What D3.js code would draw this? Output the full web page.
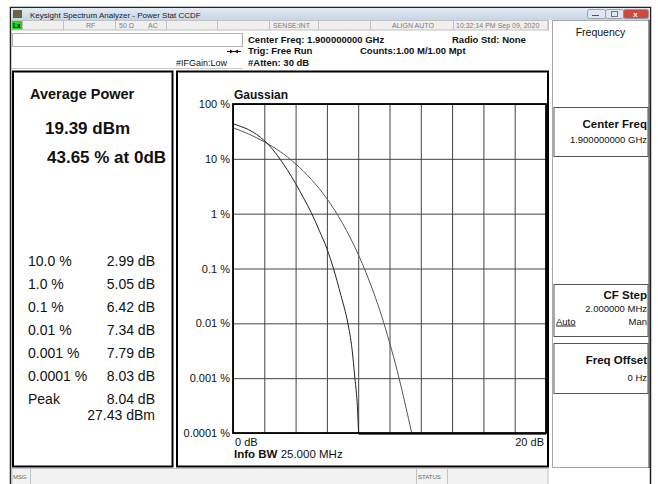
<!DOCTYPE html>
<html>
<head>
<meta charset="utf-8">
<script src="https://cdn.jsdelivr.net/npm/d3@7"></script>
<style>
  body { margin: 0; background: #fff; }
  svg { display: block; font-family: 'Liberation Sans', Arial, sans-serif; }
</style>
</head>
<body>
<svg id="chart" width="658" height="484"></svg>
<script>
// values
const yTicks = [100, 10, 1, 0.1, 0.01, 0.001, 0.0001];
const yTickLabels = ['100 %', '10 %', '1 %', '0.1 %', '0.01 %', '0.001 %', '0.0001 %'];
const xGridTicks = [0, 2, 4, 6, 8, 10, 12, 14, 16, 18, 20];
const xEndLabels = ['0 dB', '20 dB'];

const measuredDb  = [0, 0.5, 1, 1.5, 2, 2.5, 3, 3.5, 4, 4.5, 5, 5.5, 6, 6.42, 6.9, 7.34, 7.6, 7.79, 7.95, 8.03, 8.04, 20];
const measuredPct = [43.65, 39, 34, 28, 21.5, 15.3, 9.9, 6.1, 3.55, 1.95, 1.05, 0.5, 0.23, 0.1, 0.032, 0.01, 0.0035, 0.001, 0.0003, 0.0001, 0.000095, 0.000095];

const gaussianDb  = [0, 0.5, 1, 1.5, 2, 2.5, 3, 3.5, 4, 4.5, 5, 5.5, 6, 6.5, 7, 7.5, 8, 8.5, 9, 9.5, 10, 10.5, 11, 11.42];
const gaussianPct = [36.8, 32.6, 28.4, 24.3, 20.5, 16.9, 13.6, 10.7, 8.1, 5.97, 4.23, 2.88, 1.87, 1.15, 0.666, 0.361, 0.182, 0.084, 0.0355, 0.0135, 0.0045, 0.00134, 0.00034, 0.0001];

const statLabels = ['10.0 %', '1.0 %', '0.1 %', '0.01 %', '0.001 %', '0.0001 %', 'Peak'];
const statValues = ['2.99 dB', '5.05 dB', '6.42 dB', '7.34 dB', '7.79 dB', '8.03 dB', '8.04 dB'];
const peakPower = '27.43 dBm';
const avgPower = '19.39 dBm';
const avgPct = '43.65 % at 0dB';

const statusCells = [22, 63, 115, 166, 217, 269, 318, 370, 453, 548];
const statusTexts = [
  { x: 86, t: 'RF' }, { x: 119, t: '50 Ω' }, { x: 148, t: 'AC' },
  { x: 273, t: 'SENSE:INT' }, { x: 392, t: 'ALIGN AUTO' }, { x: 456, t: '10:32:14 PM Sep 09, 2020' }
];

const svg = d3.select('#chart');

// window frame and title bar
const grad = svg.append('defs').append('linearGradient')
  .attr('id', 'tb').attr('x1', 0).attr('y1', 0).attr('x2', 0).attr('y2', 1);
grad.append('stop').attr('offset', 0).attr('stop-color', '#e4ebf4');
grad.append('stop').attr('offset', 1).attr('stop-color', '#c6d4e5');

svg.append('rect').attr('x', 10.5).attr('y', 7.5).attr('width', 640).attr('height', 480)
  .attr('fill', '#fff').attr('stroke', '#222').attr('stroke-width', 1.5);
svg.append('rect').attr('x', 11).attr('y', 8).attr('width', 639).attr('height', 12).attr('fill', 'url(#tb)');
svg.append('rect').attr('x', 13).attr('y', 10).attr('width', 9).attr('height', 8).attr('fill', '#6b6540');
svg.append('text').attr('x', 30).attr('y', 17.5).attr('font-size', 8).attr('fill', '#222')
  .text('Keysight Spectrum Analyzer - Power Stat CCDF');

const btns = [{ x: 587, w: 18, c: '#dfe6ef' }, { x: 605, w: 18, c: '#dfe6ef' }, { x: 623, w: 25, c: '#cf4a3e' }];
svg.selectAll('.btn').data(btns).join('rect')
  .attr('x', d => d.x + 0.5).attr('y', 9.5).attr('width', d => d.w).attr('height', 9)
  .attr('rx', 2).attr('fill', d => d.c).attr('stroke', '#8797ad').attr('stroke-width', 0.8);
svg.append('line').attr('x1', 592).attr('x2', 599).attr('y1', 15.5).attr('y2', 15.5).attr('stroke', '#555');
svg.append('rect').attr('x', 611.5).attr('y', 11.5).attr('width', 6).attr('height', 5).attr('fill', 'none').attr('stroke', '#777');
svg.append('text').attr('x', 635.5).attr('y', 17).attr('text-anchor', 'middle').attr('font-size', 8)
  .attr('font-weight', 'bold').attr('fill', '#fff').text('x');

// status row
svg.append('rect').attr('x', 12).attr('y', 20.5).attr('width', 536).attr('height', 9.5)
  .attr('fill', '#efefef').attr('stroke', '#b5b5b5').attr('stroke-width', 0.8);
svg.append('rect').attr('x', 12).attr('y', 21).attr('width', 10).attr('height', 8.5).attr('fill', '#22d722');
svg.append('text').attr('x', 13).attr('y', 28).attr('font-size', 6.5).attr('font-weight', 'bold').text('Lx');
svg.selectAll('.cell').data(statusCells).join('line')
  .attr('x1', d => d + 0.5).attr('x2', d => d + 0.5).attr('y1', 20.5).attr('y2', 30)
  .attr('stroke', '#b5b5b5').attr('stroke-width', 0.8);
svg.selectAll('.stat').data(statusTexts).join('text')
  .attr('x', d => d.x).attr('y', 28).attr('font-size', 7).attr('fill', '#7a7a7a').text(d => d.t);

// header
svg.append('rect').attr('x', 12.5).attr('y', 33.5).attr('width', 230).attr('height', 13)
  .attr('fill', '#fff').attr('stroke', '#b0b0b0');
svg.append('line').attr('x1', 12).attr('x2', 243).attr('y1', 68.5).attr('y2', 68.5).attr('stroke', '#c8c8c8');
const hdr = svg.append('g').attr('font-size', 9.5).attr('font-weight', 'bold').attr('fill', '#111');
hdr.append('text').attr('x', 248).attr('y', 42.7).text('Center Freq: 1.900000000 GHz');
hdr.append('text').attr('x', 248).attr('y', 53.5).text('Trig: Free Run');
hdr.append('text').attr('x', 248).attr('y', 66).text('#Atten: 30 dB');
hdr.append('text').attr('x', 452).attr('y', 42.7).text('Radio Std: None');
hdr.append('text').attr('x', 360).attr('y', 53.5).text('Counts:1.00 M/1.00 Mpt');
svg.append('text').attr('x', 176).attr('y', 66).attr('font-size', 9).attr('fill', '#111').text('#IFGain:Low');
// coupling arrow
svg.append('line').attr('x1', 227).attr('x2', 241).attr('y1', 51.5).attr('y2', 51.5).attr('stroke', '#111');
svg.append('path').attr('d', 'M230,49.5 L233.5,51.5 L230,53.5 Z M238,49.5 L234.5,51.5 L238,53.5 Z').attr('fill', '#111');

// left results panel
svg.append('rect').attr('x', 13).attr('y', 71.5).attr('width', 159.5).attr('height', 395)
  .attr('fill', '#fff').attr('stroke', '#000').attr('stroke-width', 2);
const lp = svg.append('g').attr('fill', '#111');
lp.append('text').attr('x', 30).attr('y', 99).attr('font-size', 14.5).attr('font-weight', 'bold').text('Average Power');
lp.append('text').attr('x', 45).attr('y', 133.5).attr('font-size', 17).attr('font-weight', 'bold').text(avgPower);
lp.append('text').attr('x', 47).attr('y', 163).attr('font-size', 17).attr('font-weight', 'bold').text(avgPct);
lp.selectAll('.sl').data(statLabels).join('text')
  .attr('x', 28).attr('y', (d, i) => 266 + i * 23).attr('font-size', 14).text(d => d);
lp.selectAll('.sv').data(statValues).join('text')
  .attr('x', 155).attr('y', (d, i) => 266 + i * 23).attr('font-size', 14).attr('text-anchor', 'end').text(d => d);
lp.append('text').attr('x', 155).attr('y', 420).attr('font-size', 14).attr('text-anchor', 'end').text(peakPower);

// plot panel
svg.append('rect').attr('x', 177).attr('y', 71.5).attr('width', 371).attr('height', 395)
  .attr('fill', '#fff').attr('stroke', '#000').attr('stroke-width', 2);

const plot = { left: 233, right: 546, top: 104, bottom: 433 };
const x = d3.scaleLinear().domain([0, 20]).range([plot.left, plot.right]);
const y = d3.scaleLog().domain([0.0001, 100]).range([plot.bottom, plot.top]);

svg.append('text').attr('x', 234).attr('y', 99).attr('font-size', 12).attr('font-weight', 'bold')
  .attr('fill', '#111').text('Gaussian');

// gridlines
svg.append('g').attr('transform', `translate(0,${plot.bottom})`)
  .call(d3.axisBottom(x).tickValues(xGridTicks).tickFormat('').tickSize(-(plot.bottom - plot.top)))
  .call(g => g.select('.domain').remove())
  .call(g => g.selectAll('line').attr('stroke', '#444'));
svg.append('g').attr('transform', `translate(${plot.left},0)`)
  .call(d3.axisLeft(y).tickValues(yTicks).tickFormat('').tickSize(-(plot.right - plot.left)))
  .call(g => g.select('.domain').remove())
  .call(g => g.selectAll('line').attr('stroke', '#444'));

// y labels
svg.append('g').attr('transform', `translate(${plot.left},0)`)
  .call(d3.axisLeft(y).tickValues(yTicks).tickFormat((d, i) => yTickLabels[i]).tickSize(0).tickPadding(3))
  .call(g => g.select('.domain').remove())
  .call(g => g.selectAll('text').attr('font-size', 11).attr('fill', '#111')
    .attr('font-family', "'Liberation Sans', Arial, sans-serif"));

// traces
const line = d3.line().x(d => x(d[0])).y(d => y(d[1])).curve(d3.curveMonotoneX);
svg.append('path').datum(d3.zip(gaussianDb, gaussianPct)).attr('d', line)
  .attr('fill', 'none').attr('stroke', '#555').attr('stroke-width', 1);
svg.append('path').datum(d3.zip(measuredDb, measuredPct)).attr('d', line)
  .attr('fill', 'none').attr('stroke', '#222').attr('stroke-width', 1);

// frame
svg.append('rect').attr('x', plot.left).attr('y', plot.top)
  .attr('width', plot.right - plot.left).attr('height', plot.bottom - plot.top)
  .attr('fill', 'none').attr('stroke', '#000').attr('stroke-width', 1.8);

// x labels
svg.append('text').attr('x', x(0) + 2).attr('y', 445.5).attr('font-size', 11).attr('fill', '#111').text(xEndLabels[0]);
svg.append('text').attr('x', x(20) - 2).attr('y', 445.5).attr('font-size', 11).attr('text-anchor', 'end')
  .attr('fill', '#111').text(xEndLabels[1]);
const info = svg.append('text').attr('x', 234).attr('y', 458).attr('font-size', 11.5).attr('fill', '#111');
info.append('tspan').attr('font-weight', 'bold').text('Info BW ');
info.append('tspan').text('25.000 MHz');

// softkey panel
svg.append('rect').attr('x', 552.5).attr('y', 20.5).attr('width', 97).attr('height', 447)
  .attr('fill', '#fff').attr('stroke', '#a8a8a8');
svg.append('line').attr('x1', 649).attr('x2', 649).attr('y1', 20).attr('y2', 468).attr('stroke', '#333');
svg.append('text').attr('x', 600.5).attr('y', 36).attr('text-anchor', 'middle').attr('font-size', 10.5)
  .attr('fill', '#111').text('Frequency');
const keys = [{ y: 107, h: 49 }, { y: 284, h: 52 }, { y: 343, h: 50 }];
svg.selectAll('.key').data(keys).join('rect')
  .attr('x', 554).attr('y', d => d.y + 0.5).attr('width', 94).attr('height', d => d.h)
  .attr('fill', '#fff').attr('stroke', '#555');
const sk = svg.append('g').attr('fill', '#111').attr('text-anchor', 'end');
sk.append('text').attr('x', 647).attr('y', 128).attr('font-size', 11.5).attr('font-weight', 'bold').text('Center Freq');
sk.append('text').attr('x', 647).attr('y', 142.5).attr('font-size', 9.5).text('1.900000000 GHz');
sk.append('text').attr('x', 647).attr('y', 299).attr('font-size', 11.5).attr('font-weight', 'bold').text('CF Step');
sk.append('text').attr('x', 647).attr('y', 312).attr('font-size', 9.5).text('2.000000 MHz');
sk.append('text').attr('x', 647).attr('y', 324.5).attr('font-size', 9.5).text('Man');
sk.append('text').attr('x', 556).attr('y', 324.5).attr('font-size', 9.5).attr('text-anchor', 'start')
  .attr('text-decoration', 'underline').text('Auto');
sk.append('text').attr('x', 647).attr('y', 364).attr('font-size', 11.5).attr('font-weight', 'bold').text('Freq Offset');
sk.append('text').attr('x', 647).attr('y', 381).attr('font-size', 9.5).text('0 Hz');

// message bar
svg.append('rect').attr('x', 12).attr('y', 468.5).attr('width', 536).attr('height', 16)
  .attr('fill', '#f2f2f2').attr('stroke', '#c4c4c4');
[30, 416, 447].forEach(d => svg.append('line').attr('x1', d + 0.5).attr('x2', d + 0.5)
  .attr('y1', 468.5).attr('y2', 484).attr('stroke', '#c4c4c4'));
svg.append('text').attr('x', 13).attr('y', 479).attr('font-size', 6).attr('fill', '#666').text('MSG');
svg.append('text').attr('x', 418).attr('y', 479).attr('font-size', 6).attr('fill', '#666').text('STATUS');
</script>
</body>
</html>
